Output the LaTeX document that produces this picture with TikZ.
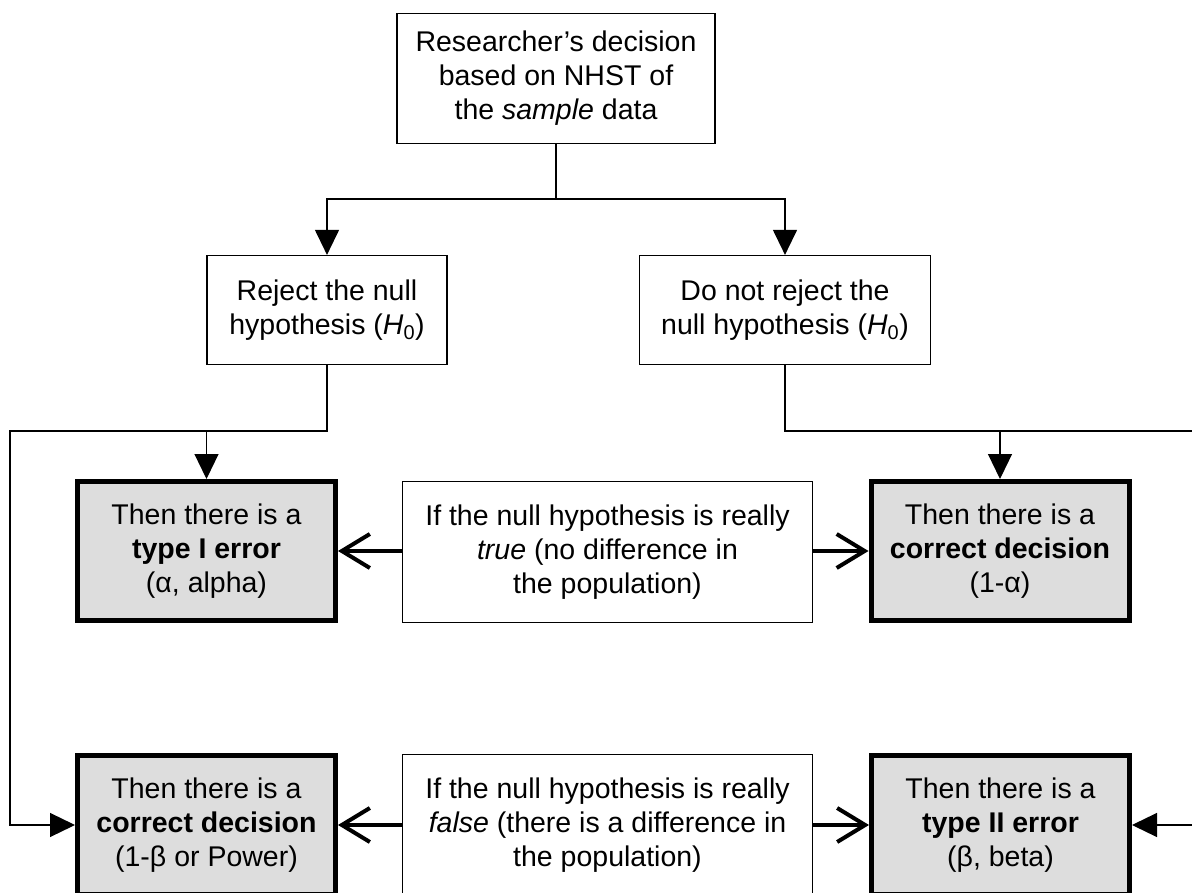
\documentclass[tikz,border=0pt]{standalone}
\usepackage{fontspec}
\setmainfont{Liberation Sans}
\usetikzlibrary{arrows.meta}
\definecolor{boxgray}{RGB}{221,221,221}
\begin{document}
\begin{tikzpicture}[x=1pt,y=-1pt,
 base/.style={font=\fontsize{28.5}{34}\selectfont, align=center, inner sep=0pt, anchor=center},
 plain/.style={base, draw, line width=1.2pt},
 result/.style={base, draw, line width=5pt, fill=boxgray, minimum width=258pt, minimum height=139pt},
 conn/.style={line width=1.2pt},
 arr/.style={conn, -{Triangle[width=24pt,length=25pt]}},
 thk/.style={line width=4pt, -{Straight Barb[length=28pt,width=34pt]}},
]
\useasboundingbox (0,0) rectangle (1192,893);
\clip (0,0) rectangle (1192,893);
\fill[white] (0,0) rectangle (1192,893);

\node[plain, minimum width=318pt, minimum height=130pt] (top) at (556,78.5) {Researcher’s decision\\based on NHST of\\the \textit{sample} data};
\node[plain, minimum width=240pt, minimum height=109pt] (rej) at (327,310) {Reject the null\\hypothesis (\textit{H}\textsubscript{0})};
\node[plain, minimum width=291pt, minimum height=109pt] (norej) at (785,310) {Do not reject the\\null hypothesis (\textit{H}\textsubscript{0})};

\node[result] (t1) at (206.5,551) {Then there is a\\\textbf{type I error}\\(α, alpha)};
\node[plain, minimum width=410pt, minimum height=141pt] (ptrue) at (607.5,552) {If the null hypothesis is really\\\textit{true} (no difference in\\the population)};
\node[result] (c1) at (1000,551) {Then there is a\\\textbf{correct decision}\\(1-α)};

\node[result] (c2) at (206.5,825) {Then there is a\\\textbf{correct decision}\\(1-β or Power)};
\node[plain, minimum width=410pt, minimum height=141pt] (pfalse) at (607.5,825) {If the null hypothesis is really\\\textit{false} (there is a difference in\\the population)};
\node[result] (t2) at (1000.5,825) {Then there is a\\\textbf{type II error}\\(β, beta)};

\coordinate (split) at (556,199);
\coordinate (lbus) at (10,431);
\coordinate (rbus) at (1195,431);

\draw[conn] (top.south) -- (split);
\draw[arr] (split) -| (rej.north);
\draw[arr] (split) -| (norej.north);

\draw[arr] (rej.south) |- (lbus) |- (c2.west);
\draw[arr] (t1.north |- lbus) -- (t1.north);
\draw[arr] (norej.south) |- (rbus) |- (t2.east);
\draw[arr] (c1.north |- rbus) -- (c1.north);

\draw[thk] (ptrue.west |- t1.east) -- (t1.east);
\draw[thk] (ptrue.east |- c1.west) -- (c1.west);
\draw[thk] (pfalse.west) -- (c2.east);
\draw[thk] (pfalse.east) -- (t2.west);
\end{tikzpicture}
\end{document}
